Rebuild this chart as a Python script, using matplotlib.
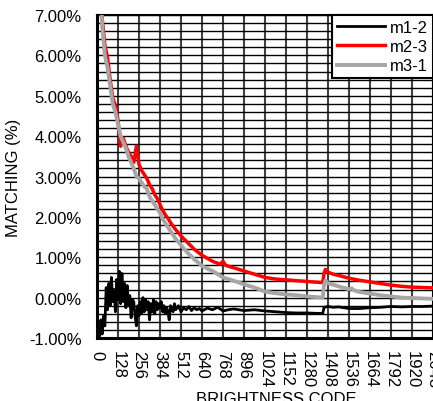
import matplotlib
matplotlib.use("Agg")
import matplotlib.pyplot as plt
from matplotlib.ticker import MultipleLocator, FuncFormatter

plt.rcParams['font.family'] = ['Liberation Sans', 'DejaVu Sans']

# brightness codes (x) and matching values in % (y)
codes_m23 = [0, 16, 32, 48, 64, 80, 96, 112, 128, 144, 160, 176, 192, 208, 224, 240,
             256, 272, 288, 304, 320, 336, 352, 368, 384, 400, 416, 432, 448, 464, 480,
             496, 512, 528, 544, 560, 576, 592, 608, 624, 640, 704, 736, 752, 768, 784,
             832, 896, 960, 1024, 1088, 1152, 1216, 1280, 1344, 1376, 1384, 1392, 1408,
             1440, 1472, 1536, 1600, 1664, 1728, 1792, 1856, 1920, 1984, 2048]
m23 = [9.5, 8.1, 6.9, 6.25, 5.95, 5.4, 4.95, 4.75, 4.4, 3.75, 3.95, 3.75, 3.6, 3.5, 3.35,
       3.75, 3.3, 3.15, 3.05, 2.95, 2.8, 2.7, 2.55, 2.45, 2.3, 2.17, 2.05, 1.97, 1.86,
       1.77, 1.68, 1.61, 1.53, 1.46, 1.4, 1.33, 1.27, 1.2, 1.15, 1.1, 1.05, 0.9, 0.85,
       0.83, 0.9, 0.8, 0.74, 0.66, 0.58, 0.5, 0.46, 0.44, 0.42, 0.4, 0.38, 0.37, 0.6,
       0.7, 0.63, 0.58, 0.55, 0.48, 0.43, 0.39, 0.35, 0.31, 0.28, 0.26, 0.25, 0.24]

codes_m31 = [0, 16, 32, 48, 64, 80, 96, 112, 128, 144, 160, 176, 192, 208, 224, 240,
             256, 272, 288, 304, 320, 336, 352, 368, 384, 400, 416, 432, 448, 464, 480,
             496, 512, 528, 544, 560, 576, 592, 608, 624, 640, 704, 768, 832, 896, 960,
             1024, 1088, 1152, 1216, 1280, 1344, 1376, 1384, 1392, 1408, 1440, 1472,
             1504, 1536, 1552, 1568, 1600, 1664, 1728, 1792, 1856, 1920, 1984, 2048]
m31 = [9.5, 8.0, 6.7, 6.0, 5.7, 5.25, 4.8, 4.6, 4.3, 4.0, 3.85, 3.7, 3.5, 3.35, 3.2,
       3.0, 2.95, 2.85, 2.75, 2.7, 2.5, 2.4, 2.3, 2.2, 2.1, 1.95, 1.85, 1.75, 1.65,
       1.55, 1.45, 1.38, 1.3, 1.22, 1.15, 1.08, 1.02, 0.95, 0.9, 0.84, 0.78, 0.66,
       0.5, 0.42, 0.33, 0.25, 0.15, 0.11, 0.08, 0.06, 0.03, 0.01, 0.0, 0.3, 0.42,
       0.36, 0.32, 0.28, 0.24, 0.21, 0.23, 0.18, 0.14, 0.1, 0.06, 0.03, 0.0, -0.01,
       -0.02, -0.03]

codes_m12 = [0, 8, 16, 24, 32, 40, 48, 56, 64, 72, 80, 88, 96, 104, 112, 120, 128, 136,
             144, 152, 160, 168, 176, 184, 192, 200, 208, 216, 224, 232, 240, 248, 256,
             264, 272, 280, 288, 296, 304, 312, 320, 328, 336, 344, 352, 360, 368, 376,
             384, 392, 400, 408, 416, 424, 432, 440, 448, 456, 464, 472, 480, 496, 512,
             528, 544, 560, 576, 592, 608, 624, 640, 672, 704, 736, 768, 800, 832, 896,
             960, 1024, 1088, 1152, 1216, 1280, 1344, 1376, 1384, 1408, 1440, 1472, 1536,
             1600, 1664, 1728, 1792, 1856, 1920, 1984, 2048]
m12 = [-0.95, -0.8, -0.95, -0.55, -0.9, -0.45, -0.7, 0.25, -0.3, 0.35, -0.2, 0.5, -0.1,
       0.2, -0.35, 0.45, -0.05, 0.65, -0.15, 0.6, -0.1, 0.35, -0.25, 0.3, -0.2, 0.05,
       -0.5, -0.05, -0.1, -0.45, -0.7, -0.2, -0.45, -0.1, -0.4, 0.0, -0.35, -0.05, -0.3,
       -0.1, -0.55, -0.15, -0.35, -0.05, -0.4, -0.1, -0.3, -0.15, -0.25, -0.1, -0.35,
       -0.2, -0.4, -0.25, -0.35, -0.55, -0.2, -0.3, -0.35, -0.15, -0.3, -0.2, -0.35,
       -0.25, -0.3, -0.22, -0.32, -0.25, -0.3, -0.27, -0.33, -0.26, -0.3, -0.24, -0.33,
       -0.3, -0.28, -0.32, -0.3, -0.33, -0.35, -0.37, -0.38, -0.38, -0.39, -0.39, -0.24,
       -0.22, -0.24, -0.23, -0.27, -0.27, -0.25, -0.24, -0.22, -0.23, -0.22, -0.22, -0.21]

x_ticks = list(range(0, 2049, 128))

fig = plt.figure(figsize=(4.33, 4.02), dpi=100)
ax = fig.add_axes([97 / 433, 1 - 339 / 402, 336 / 433, 323 / 402])

ax.plot(codes_m12, m12, color="black", lw=2.0, label="m1-2", zorder=3)
ax.plot(codes_m23, m23, color="#ff0000", lw=2.5, label="m2-3", zorder=3)
ax.plot(codes_m31, m31, color="#a6a6a6", lw=2.8, label="m3-1", zorder=4)

ax.set_xlim(0, 2048)
ax.set_ylim(-1, 7)
ax.set_xticks(x_ticks)
ax.set_xticklabels([str(t) for t in x_ticks], rotation=-90, fontsize=12)
ax.yaxis.set_major_locator(MultipleLocator(1))
ax.yaxis.set_minor_locator(MultipleLocator(0.2))
ax.yaxis.set_major_formatter(FuncFormatter(lambda v, p: "%.2f%%" % v))
ax.tick_params(axis="y", which="both", length=0, pad=11, labelsize=12)
ax.tick_params(axis="x", length=0, pad=9)

# grid
ax.grid(True, axis="x", color="#404040", lw=1.5)
ax.grid(True, axis="y", which="both", color="black", lw=1.0)
ax.set_axisbelow(True)

for s in ["left", "bottom"]:
    ax.spines[s].set_linewidth(2.2)
for s in ["top", "right"]:
    ax.spines[s].set_linewidth(1.5)

ax.set_ylabel("MATCHING (%)", fontsize=12, labelpad=6)
fig.text(276 / 433, 1 - 400 / 402, "BRIGHTNESS CODE", ha="center", va="center", fontsize=12)

leg = ax.legend(loc="upper right", borderaxespad=0, fontsize=12, handlelength=2.9,
                labelspacing=0.25, fancybox=False, framealpha=1, edgecolor="black",
                borderpad=0.3, handletextpad=0.3)
leg.get_frame().set_linewidth(1.5)

fig.savefig("out.png", dpi=100)
